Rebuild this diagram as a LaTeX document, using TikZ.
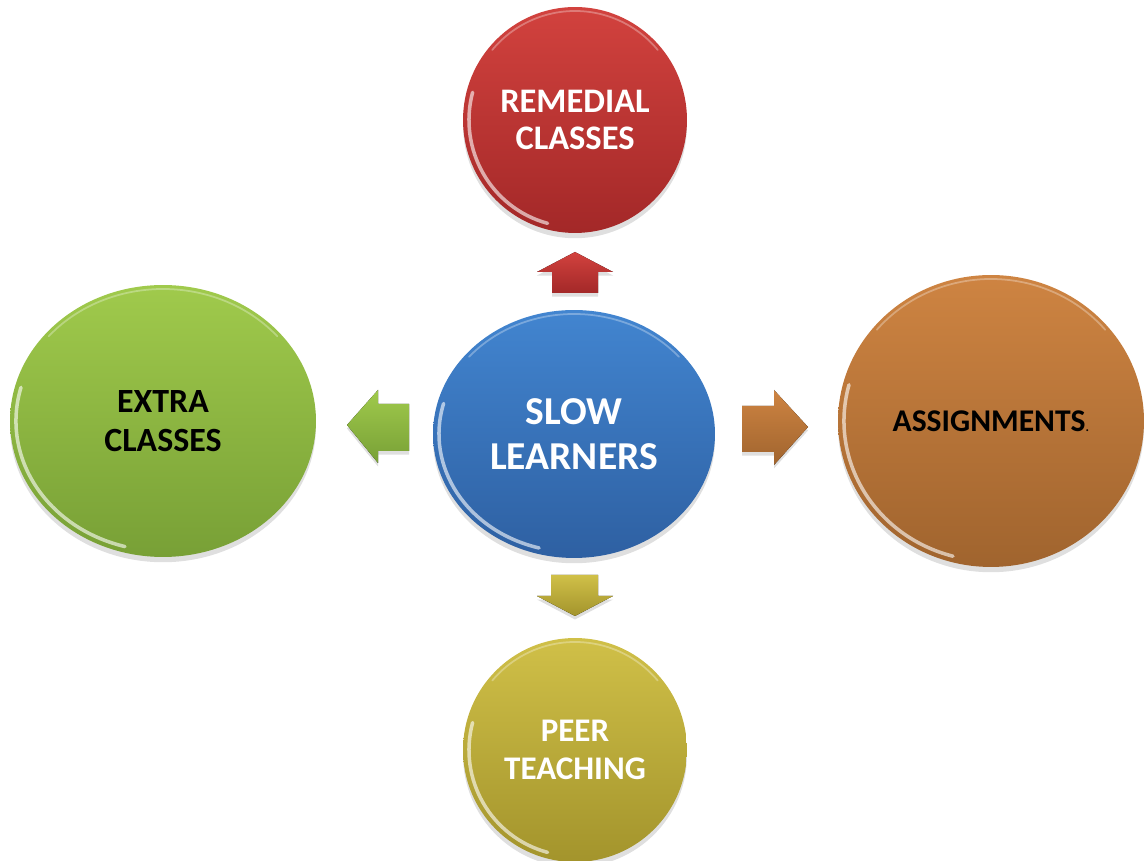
\documentclass[tikz,border=0pt]{standalone}
\usepackage{fontspec}
\setmainfont{Carlito}
\usetikzlibrary{shapes.geometric,shadows}

\definecolor{redtop}{RGB}{210,66,62}
\definecolor{redbot}{RGB}{163,40,40}
\definecolor{bluetop}{RGB}{66,133,208}
\definecolor{bluebot}{RGB}{46,96,162}
\definecolor{greentop}{RGB}{160,202,76}
\definecolor{greenbot}{RGB}{120,160,54}
\definecolor{orangetop}{RGB}{206,132,66}
\definecolor{orangebot}{RGB}{160,100,46}
\definecolor{yellowtop}{RGB}{208,192,72}
\definecolor{yellowbot}{RGB}{163,148,44}

\begin{document}
\begin{tikzpicture}[x=0.02cm, y=0.02cm,
    bubble/.style={ellipse, inner sep=0pt, align=center,
      font=\bfseries\fontsize{19.3}{22.2}\selectfont,
      drop shadow={opacity=.25, shadow xshift=0pt, shadow yshift=-3pt}},
    blockarrow/.style={drop shadow={opacity=.25, shadow xshift=0pt, shadow yshift=-2pt}}]
  \useasboundingbox (0,0) rectangle (1146,861);

  % centre and the four outer bubbles
  \node[bubble, minimum width=5.64cm, minimum height=4.96cm, top color=bluetop, bottom color=bluebot,
    text=white, font=\bfseries\fontsize{22.5}{25.6}\selectfont] (slow) at (574,427) {SLOW\\LEARNERS};
  \node[bubble, minimum width=4.48cm, minimum height=4.52cm, top color=redtop, bottom color=redbot,
    text=white, font=\bfseries\fontsize{19.6}{21.2}\selectfont] (remedial) at (575,741) {REMEDIAL\\CLASSES};
  \node[bubble, minimum width=6.12cm, minimum height=5.44cm, top color=greentop, bottom color=greenbot,
    text=black] (extra) at (163,440) {EXTRA\\CLASSES};
  \node[bubble, minimum width=6.12cm, minimum height=5.84cm, top color=orangetop, bottom color=orangebot,
    text=black, font=\bfseries\fontsize{18}{20}\selectfont] (assign) at (991,440)
    {ASSIGNMENTS{\mdseries\fontsize{9}{10}\selectfont.}};
  \node[bubble, minimum width=4.48cm, minimum height=4.48cm, top color=yellowtop, bottom color=yellowbot,
    text=white, font=\bfseries\fontsize{18.8}{21.6}\selectfont] (peer) at (575,111) {PEER\\TEACHING};

  % glossy rims
  \foreach \n/\rx/\ry in {slow/141/124, remedial/112/113, extra/153/136, assign/153/146, peer/112/112} {
    \draw[white, opacity=.6, line width=2pt, line cap=round]
      ([shift={(\n.center)}]165:{\rx-6} and {\ry-6}) arc[start angle=165, end angle=255, x radius=\rx-6, y radius=\ry-6];
    \draw[white, opacity=.3, line width=1pt, line cap=round]
      ([shift={(\n.center)}]40:{\rx-4} and {\ry-4}) arc[start angle=40, end angle=140, x radius=\rx-4, y radius=\ry-4];
  }

  % block arrows
  \fill[blockarrow, top color=redtop, bottom color=redbot]
    (552,568) -- (552,589) -- (537,589) -- (575,609) -- (613,589) -- (598,589) -- (598,568) -- cycle;
  \fill[blockarrow, top color=yellowtop, bottom color=yellowbot]
    (551,286) -- (551,265) -- (537,265) -- (575,245) -- (613,265) -- (598,265) -- (598,286) -- cycle;
  \fill[blockarrow, top color=greentop, bottom color=greenbot]
    (409,457) -- (378,457) -- (378,471) -- (347,436) -- (378,398) -- (378,410) -- (409,410) -- cycle;
  \fill[blockarrow, top color=orangetop, bottom color=orangebot]
    (742,455) -- (774,455) -- (774,471) -- (808,434) -- (774,396) -- (774,409) -- (742,409) -- cycle;
\end{tikzpicture}
\end{document}
